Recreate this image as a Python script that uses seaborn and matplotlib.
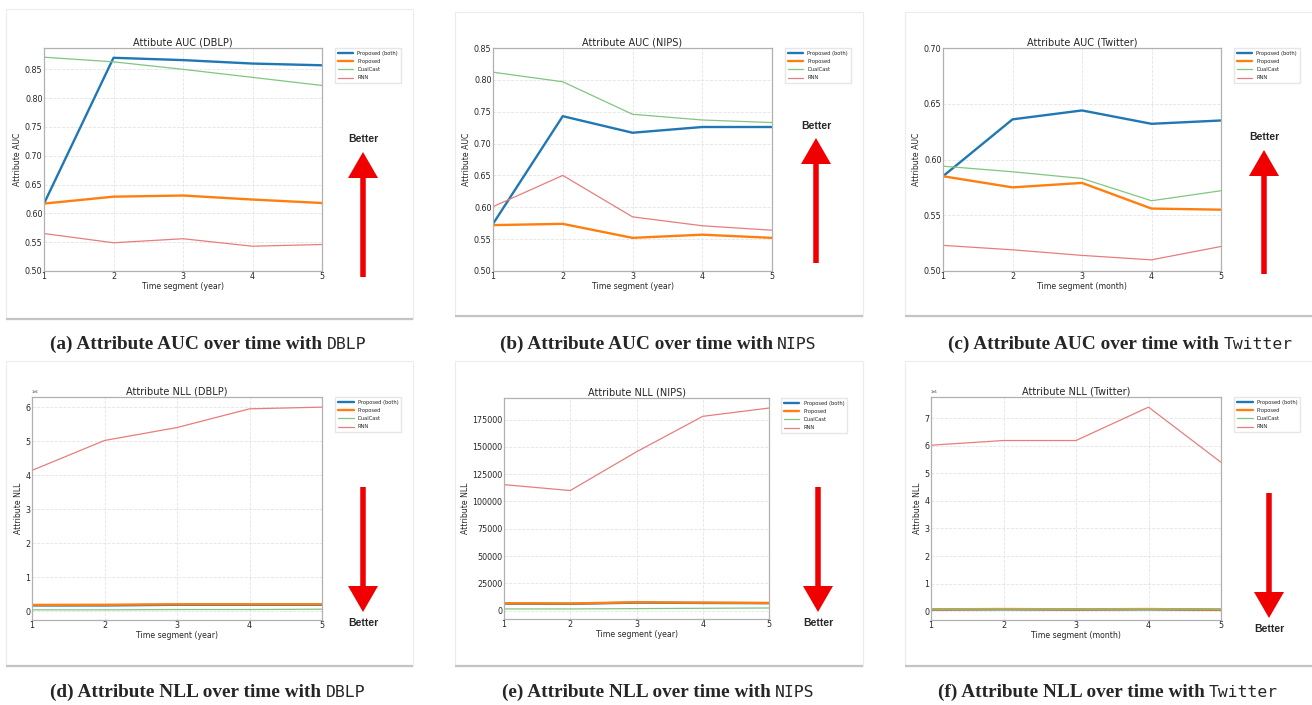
import numpy as np
import pandas as pd
import matplotlib
matplotlib.use("Agg")
import matplotlib.pyplot as plt
import seaborn as sns
from matplotlib.patches import Rectangle, FancyArrow

# ---------------------------------------------------------------- data
segments = [1, 2, 3, 4, 5]
methods = ["Proposed (both)", "Proposed", "DualCast", "RNN"]

# Attribute AUC, DBLP
auc_dblp_both = [0.617, 0.870, 0.866, 0.860, 0.857]
auc_dblp_prop = [0.617, 0.629, 0.631, 0.624, 0.618]
auc_dblp_dual = [0.871, 0.863, 0.850, 0.836, 0.822]
auc_dblp_rnn = [0.565, 0.549, 0.556, 0.543, 0.546]

# Attribute AUC, NIPS
auc_nips_both = [0.574, 0.743, 0.717, 0.726, 0.726]
auc_nips_prop = [0.572, 0.574, 0.552, 0.557, 0.552]
auc_nips_dual = [0.812, 0.797, 0.746, 0.737, 0.733]
auc_nips_rnn = [0.601, 0.650, 0.585, 0.571, 0.564]

# Attribute AUC, Twitter
auc_tw_both = [0.585, 0.636, 0.644, 0.632, 0.635]
auc_tw_prop = [0.585, 0.575, 0.579, 0.556, 0.555]
auc_tw_dual = [0.594, 0.589, 0.583, 0.563, 0.572]
auc_tw_rnn = [0.523, 0.519, 0.514, 0.510, 0.522]

# Attribute NLL, DBLP
nll_dblp_both = [0.17e6, 0.17e6, 0.19e6, 0.19e6, 0.19e6]
nll_dblp_prop = [0.186e6, 0.19e6, 0.205e6, 0.205e6, 0.205e6]
nll_dblp_dual = [0.04e6, 0.04e6, 0.05e6, 0.05e6, 0.06e6]
nll_dblp_rnn = [4.14e6, 5.02e6, 5.40e6, 5.95e6, 6.00e6]

# Attribute NLL, NIPS
nll_nips_both = [6400, 6200, 7300, 7000, 6800]
nll_nips_prop = [6700, 6500, 7600, 7300, 7000]
nll_nips_dual = [1500, 1500, 1800, 2100, 2400]
nll_nips_rnn = [115400, 110000, 145500, 178000, 185600]

# Attribute NLL, Twitter
nll_tw_both = [0.06e6, 0.07e6, 0.06e6, 0.07e6, 0.05e6]
nll_tw_prop = [0.07e6, 0.08e6, 0.07e6, 0.08e6, 0.06e6]
nll_tw_dual = [0.08e6, 0.09e6, 0.08e6, 0.09e6, 0.07e6]
nll_tw_rnn = [6.02e6, 6.19e6, 6.19e6, 7.40e6, 5.40e6]

palette = {"Proposed (both)": "#1f77b4", "Proposed": "#ff7f0e",
           "DualCast": "#80c680", "RNN": "#e67d7e"}
widths = {"Proposed (both)": 1.7, "Proposed": 1.7, "DualCast": 0.9, "RNN": 0.9}

# ---------------------------------------------------------------- figure
sns.set_theme(style="whitegrid")
plt.rcParams["font.family"] = ["DejaVu Sans"]

W, H = 1312, 705
fig = plt.figure(figsize=(W / 100, H / 100), dpi=100)
fig.patch.set_facecolor("white")

# overlay in pixel units for frames, arrows and captions
ov = fig.add_axes([0, 0, 1, 1], zorder=0)
ov.set_xlim(0, W)
ov.set_ylim(H, 0)
ov.axis("off")


def px_axes(x0, x1, y0, y1):
    return fig.add_axes([x0 / W, 1 - y1 / H, (x1 - x0) / W, (y1 - y0) / H], zorder=2)


frames = [(6, 413, 9, 319), (455, 863, 12, 316), (905, 1314, 12, 316),
          (6, 413, 361, 666), (455, 863, 361, 666), (905, 1314, 361, 666)]
for fx0, fx1, fy0, fy1 in frames:
    ov.add_patch(Rectangle((fx0, fy0), fx1 - fx0, fy1 - fy0, facecolor="white",
                           edgecolor="#ececec", linewidth=0.8))
    ov.plot([fx0, fx1], [fy1, fy1], color="#c4c4c4", linewidth=1.6,
            solid_capstyle="butt")

panels = [
    dict(box=(44, 322, 48, 271), title="Attibute AUC (DBLP)", ylabel="Attribute AUC",
         xlabel="Time segment (year)",
         series=[auc_dblp_both, auc_dblp_prop, auc_dblp_dual, auc_dblp_rnn],
         ylim=(0.50, 0.887), yticks=np.arange(0.50, 0.851, 0.05)),
    dict(box=(493, 772, 48, 271), title="Attribute AUC (NIPS)", ylabel="Attribute AUC",
         xlabel="Time segment (year)",
         series=[auc_nips_both, auc_nips_prop, auc_nips_dual, auc_nips_rnn],
         ylim=(0.50, 0.85), yticks=np.arange(0.50, 0.851, 0.05)),
    dict(box=(943, 1221, 48, 271), title="Attribute AUC (Twitter)", ylabel="Attribute AUC",
         xlabel="Time segment (month)",
         series=[auc_tw_both, auc_tw_prop, auc_tw_dual, auc_tw_rnn],
         ylim=(0.50, 0.70), yticks=np.arange(0.50, 0.701, 0.05)),
    dict(box=(32, 322, 397, 620), title="Attribute NLL (DBLP)", ylabel="Attribute NLL",
         xlabel="Time segment (year)",
         series=[nll_dblp_both, nll_dblp_prop, nll_dblp_dual, nll_dblp_rnn],
         ylim=None, yticks=None),
    dict(box=(504, 769, 398, 619), title="Attribute NLL (NIPS)", ylabel="Attribute NLL",
         xlabel="Time segment (year)",
         series=[nll_nips_both, nll_nips_prop, nll_nips_dual, nll_nips_rnn],
         ylim=None, yticks=None),
    dict(box=(931, 1221, 397, 620), title="Attribute NLL (Twitter)", ylabel="Attribute NLL",
         xlabel="Time segment (month)",
         series=[nll_tw_both, nll_tw_prop, nll_tw_dual, nll_tw_rnn],
         ylim=None, yticks=None),
]

for p in panels:
    ax = px_axes(*p["box"])
    rows = []
    for m, vals in zip(methods, p["series"]):
        for s, v in zip(segments, vals):
            rows.append((m, s, v))
    df = pd.DataFrame(rows, columns=["method", "segment", "value"])
    for m in methods:
        sns.lineplot(data=df[df["method"] == m], x="segment", y="value", ax=ax,
                     color=palette[m], linewidth=widths[m], label=m)
    ax.set_xlim(1, 5)
    ax.set_xticks(segments)
    if p["ylim"] is not None:
        ax.set_ylim(*p["ylim"])
        ax.set_yticks(p["yticks"])
        ax.yaxis.set_major_formatter(matplotlib.ticker.FormatStrFormatter("%.2f"))
    ax.set_title(p["title"], fontsize=7, pad=1.5)
    ax.set_xlabel(p["xlabel"], fontsize=5.6, labelpad=0.5)
    ax.set_ylabel(p["ylabel"], fontsize=5.6, labelpad=2)
    ax.tick_params(axis="both", labelsize=5.8, pad=1, length=0)
    ax.yaxis.get_offset_text().set_fontsize(2.5)
    ax.grid(True, color="#e4e4e4", linestyle="--", linewidth=0.6)
    for sp in ax.spines.values():
        sp.set_color("#b0b0b0")
        sp.set_linewidth(0.9)
    ax.legend(loc="upper left", bbox_to_anchor=(1.045, 1.0), borderaxespad=0,
              fontsize=3.7, handlelength=3.0, frameon=True, edgecolor="#e6e6e6",
              fancybox=False, framealpha=1, borderpad=0.6, labelspacing=0.6)

# ---------------------------------------------------------------- "Better" arrows
red = "#f00000"
better_up = [(363, 277, 152, 139), (816, 263, 138, 126), (1264, 274, 150, 137)]
for x, tail, tip, ty in better_up:
    ov.add_patch(FancyArrow(x, tail, 0, tip - tail, width=5.5, head_width=30,
                            head_length=26, length_includes_head=True,
                            color=red, linewidth=0))
    ov.text(x, ty, "Better", ha="center", va="center", fontsize=7.5,
            fontweight="bold", family="Liberation Sans")

better_down = [(363, 487, 612, 623), (818, 487, 612, 623), (1269, 493, 618, 629)]
for x, tail, tip, ty in better_down:
    ov.add_patch(FancyArrow(x, tail, 0, tip - tail, width=5.5, head_width=30,
                            head_length=26, length_includes_head=True,
                            color=red, linewidth=0))
    ov.text(x, ty, "Better", ha="center", va="center", fontsize=7.5,
            fontweight="bold", family="Liberation Sans")

# gap marker between the proposed model and DualCast on Twitter
blue = "#1a8cf0"
for end in (125, 191):
    ov.add_patch(FancyArrow(1193, 158, 0, end - 158, width=3, head_width=14,
                            head_length=12, length_includes_head=True,
                            color=blue, linewidth=0))
ov.text(1202, 158, "7%", ha="left", va="center", fontsize=7.5,
        fontweight="bold", family="Liberation Sans")

# ---------------------------------------------------------------- captions
renderer = fig.canvas.get_renderer()


def caption(cx, base, bold, mono):
    t1 = ov.text(0, base, bold, family="Liberation Serif", fontweight="bold",
                 fontsize=13.9, ha="left", va="baseline")
    t2 = ov.text(0, base, mono, family="DejaVu Sans Mono", fontsize=11.8,
                 ha="left", va="baseline")
    w1 = t1.get_window_extent(renderer).width
    w2 = t2.get_window_extent(renderer).width
    gap = 4.5
    x0 = cx - (w1 + gap + w2) / 2
    t1.set_x(x0)
    t2.set_x(x0 + w1 + gap)


caption(208, 349, "(a) Attribute AUC over time with", "DBLP")
caption(658, 349, "(b) Attribute AUC over time with", "NIPS")
caption(1120, 349, "(c) Attribute AUC over time with", "Twitter")
caption(208, 697, "(d) Attribute NLL over time with", "DBLP")
caption(658, 697, "(e) Attribute NLL over time with", "NIPS")
caption(1108, 697, "(f) Attribute NLL over time with", "Twitter")

fig.savefig("out.png", dpi=100, facecolor="white")
